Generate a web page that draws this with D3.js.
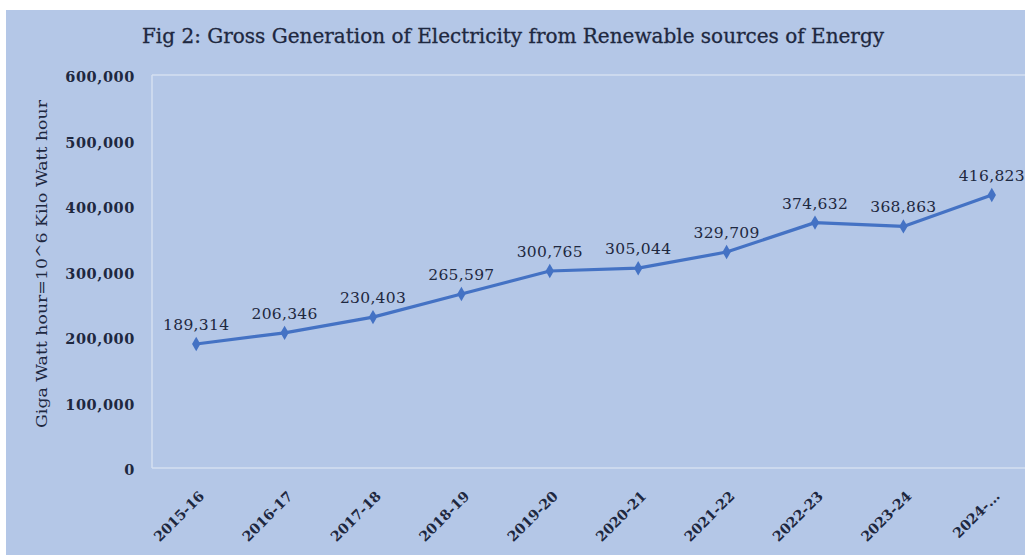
<!DOCTYPE html>
<html>
<head>
<meta charset="utf-8">
<script src="https://cdn.jsdelivr.net/npm/d3@7"></script>
<style>
  body { margin: 0; background: #fff; }
  svg { display: block; }
</style>
</head>
<body>
<script>
// data
const categories = ["2015-16", "2016-17", "2017-18", "2018-19", "2019-20",
                    "2020-21", "2021-22", "2022-23", "2023-24", "2024-..."];
const generation = [189314, 206346, 230403, 265597, 300765,
                    305044, 329709, 374632, 368863, 416823];
const yTicks = [0, 100000, 200000, 300000, 400000, 500000, 600000];
const titleText = "Fig 2: Gross Generation of Electricity from Renewable sources of Energy";
const yTitleText = "Giga Watt hour=10^6  Kilo Watt hour";

const W = 1025, H = 555;
const plot = { left: 152, top: 75, bottom: 468, bandW: 88.4 };
const serif = "'DejaVu Serif', 'Liberation Serif', serif";
const ink = "#1e2840";

const svg = d3.select("body").append("svg")
    .attr("width", W)
    .attr("height", H);

// chart background
svg.append("rect").attr("x", 6).attr("y", 10)
    .attr("width", W - 6).attr("height", H - 10)
    .attr("fill", "#b4c7e7");

const x = d3.scaleBand()
    .domain(categories)
    .range([plot.left, plot.left + plot.bandW * categories.length]);
const y = d3.scaleLinear().domain([0, 600000]).range([plot.bottom, plot.top]);

// plot area frame (left, top, bottom)
const frame = svg.append("g").attr("stroke", "#d5dff1").attr("stroke-width", 1.5);
frame.append("line").attr("x1", plot.left).attr("x2", W).attr("y1", plot.top).attr("y2", plot.top);
frame.append("line").attr("x1", plot.left).attr("x2", W).attr("y1", plot.bottom).attr("y2", plot.bottom);
frame.append("line").attr("x1", plot.left).attr("x2", plot.left).attr("y1", plot.top).attr("y2", plot.bottom);

// title
svg.append("text")
    .attr("x", 513).attr("y", 43)
    .attr("text-anchor", "middle")
    .attr("font-family", serif)
    .attr("font-size", 20)
    .attr("fill", ink)
    .attr("stroke", ink)
    .attr("stroke-width", 0.3)
    .attr("textLength", 742)
    .attr("lengthAdjust", "spacingAndGlyphs")
    .text(titleText);

// y axis
const yAxis = d3.axisLeft(y)
    .tickValues(yTicks)
    .tickSize(0)
    .tickPadding(0)
    .tickFormat(d3.format(","));
const gy = svg.append("g")
    .attr("transform", `translate(135,2)`)
    .call(yAxis);
gy.select(".domain").remove();
gy.selectAll("text")
    .attr("font-family", serif)
    .attr("font-weight", "bold")
    .attr("font-size", 14.5)
    .attr("letter-spacing", 0.6)
    .attr("fill", ink);

// y axis title
svg.append("text")
    .attr("transform", "translate(47,264) rotate(-90)")
    .attr("text-anchor", "middle")
    .attr("font-family", serif)
    .attr("font-size", 15.5)
    .attr("fill", ink)
    .attr("textLength", 328)
    .attr("lengthAdjust", "spacingAndGlyphs")
    .text(yTitleText);

// x axis
const xAxis = d3.axisBottom(x).tickSize(0).tickPadding(0);
const gx = svg.append("g")
    .attr("transform", `translate(0,${plot.bottom})`)
    .call(xAxis);
gx.select(".domain").remove();
gx.selectAll("text")
    .attr("font-family", serif)
    .attr("font-weight", "bold")
    .attr("font-size", 14)
    .attr("fill", ink)
    .attr("text-anchor", "end")
    .attr("dy", null)
    .attr("transform", "translate(9,29) rotate(-45)");

// line
const cx = d => x(d) + x.bandwidth() / 2;
const line = d3.line()
    .x((d, i) => cx(categories[i]))
    .y(d => y(d));

svg.append("path")
    .datum(generation)
    .attr("fill", "none")
    .attr("stroke", "#4472c4")
    .attr("stroke-width", 3.2)
    .attr("stroke-linejoin", "round")
    .attr("d", line);

// diamond markers
const diamond = d3.symbol().type(d3.symbolDiamond).size(60);
svg.selectAll(".mk")
    .data(generation)
    .join("path")
    .attr("class", "mk")
    .attr("d", diamond)
    .attr("fill", "#4472c4")
    .attr("transform", (d, i) => `translate(${cx(categories[i])},${y(d)})`);

// data labels
svg.selectAll(".lbl")
    .data(generation)
    .join("text")
    .attr("class", "lbl")
    .attr("x", (d, i) => cx(categories[i]))
    .attr("y", d => y(d) - 14)
    .attr("text-anchor", "middle")
    .attr("font-family", serif)
    .attr("font-size", 15.5)
    .attr("letter-spacing", 0.3)
    .attr("fill", ink)
    .text(d => d3.format(",")(d));
</script>
</body>
</html>
